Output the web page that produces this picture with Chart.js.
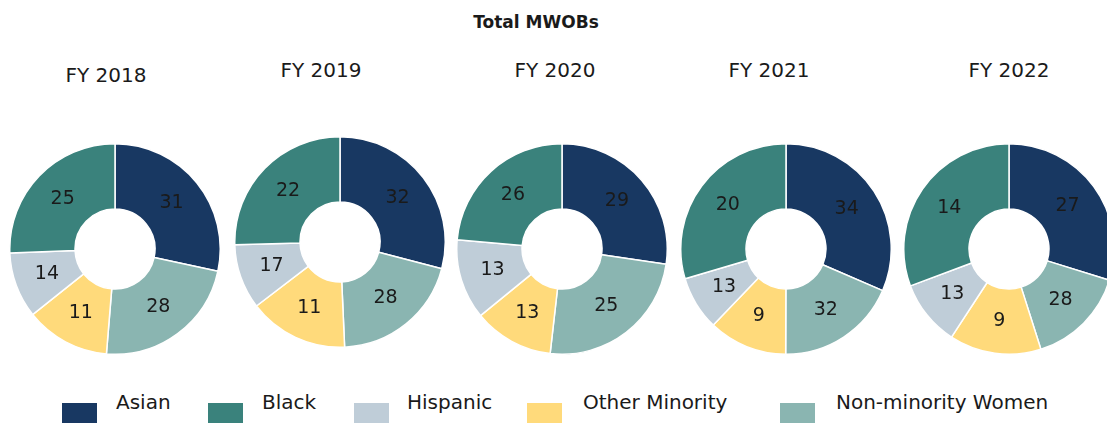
<!DOCTYPE html>
<html>
<head>
<meta charset="utf-8">
<script src="https://cdn.jsdelivr.net/npm/chart.js@4.4.1/dist/chart.umd.min.js"></script>
<style>
  body { margin: 0; width: 1107px; height: 423px; overflow: hidden; background: #fff;
         font-family: "DejaVu Sans", sans-serif; color: #1a1a1a; position: relative; }
  .lbl { position: absolute; transform: translate(-50%, -50%); white-space: nowrap; }
  #title { font-weight: bold; font-size: 17px; left: 536px; top: 22px; }
  .year { font-size: 20px; }
  canvas.pie { position: absolute; }
  .box { position: absolute; top: 403px; width: 35px; height: 20px; }
  .ltxt { position: absolute; top: 402px; transform: translateY(-50%); font-size: 20px; white-space: nowrap; }
</style>
</head>
<body>
<div id="title" class="lbl">Total MWOBs</div>

<script>
// fiscal years shown, one doughnut each
const years = ['FY 2018', 'FY 2019', 'FY 2020', 'FY 2021', 'FY 2022'];

// slice order, clockwise from 12 o'clock
const categories = ['Asian', 'Non-minority Women', 'Other Minority', 'Hispanic', 'Black'];
// legend order
const legendOrder = ['Asian', 'Black', 'Hispanic', 'Other Minority', 'Non-minority Women'];

// numbers printed on the slices
const asian            = [31, 32, 29, 34, 27];
const nonMinorityWomen = [28, 28, 25, 32, 28];
const otherMinority    = [11, 11, 13,  9,  9];
const hispanic         = [14, 17, 13, 13, 13];
const black            = [25, 22, 26, 20, 14];

// slice sizes as drawn (share of the ring, %), read from the arcs
const asianShare            = [28.4, 29.1, 27.3, 31.5, 29.8];
const nonMinorityWomenShare = [22.9, 20.2, 24.5, 18.6, 15.3];
const otherMinorityShare    = [13.0, 15.3, 12.3, 12.1, 14.1];
const hispanicShare         = [10.1, 10.0, 12.3,  8.3, 10.1];
const blackShare            = [25.6, 25.4, 23.6, 29.6, 30.7];

const colors = {
  'Asian': '#183862',
  'Black': '#3a827c',
  'Hispanic': '#bfcdd8',
  'Other Minority': '#ffda7b',
  'Non-minority Women': '#8ab5b1'
};

// layout of each small chart (centre of doughnut, year label centre)
const pieCenters = [[115, 249], [340, 242], [562, 249], [786, 249], [1009, 249]];
const yearPos = [[106, 75], [321, 70], [555, 70], [769, 70], [1009, 70]];
const SIZE = 212;

// draws the printed value in the middle of each arc
const sliceLabels = {
  id: 'sliceLabels',
  afterDatasetsDraw(chart, args, opts) {
    const ctx = chart.ctx;
    const meta = chart.getDatasetMeta(0);
    ctx.save();
    ctx.font = '19px "DejaVu Sans", sans-serif';
    ctx.fillStyle = '#1a1a1a';
    ctx.textAlign = 'center';
    ctx.textBaseline = 'middle';
    meta.data.forEach((arc, i) => {
      const p = arc.tooltipPosition();
      ctx.fillText(opts.values[i], p.x, p.y);
    });
    ctx.restore();
  }
};

years.forEach((yr, k) => {
  const lab = document.createElement('div');
  lab.className = 'lbl year';
  lab.textContent = yr;
  lab.style.left = yearPos[k][0] + 'px';
  lab.style.top = yearPos[k][1] + 'px';
  document.body.appendChild(lab);

  const cv = document.createElement('canvas');
  cv.className = 'pie';
  cv.width = SIZE;
  cv.height = SIZE;
  cv.style.left = (pieCenters[k][0] - SIZE / 2) + 'px';
  cv.style.top = (pieCenters[k][1] - SIZE / 2) + 'px';
  document.body.appendChild(cv);

  new Chart(cv, {
    type: 'doughnut',
    data: {
      labels: categories,
      datasets: [{
        data: [asianShare[k], nonMinorityWomenShare[k], otherMinorityShare[k], hispanicShare[k], blackShare[k]],
        backgroundColor: categories.map(c => colors[c]),
        borderColor: '#ffffff',
        borderWidth: 1.5
      }]
    },
    options: {
      responsive: false,
      animation: false,
      cutout: '38%',
      layout: { padding: 0 },
      plugins: {
        legend: { display: false },
        tooltip: { enabled: false },
        sliceLabels: { values: [asian[k], nonMinorityWomen[k], otherMinority[k], hispanic[k], black[k]] }
      }
    },
    plugins: [sliceLabels]
  });
});

// legend along the bottom
const legendX = [[62, 116], [208, 262], [354, 407], [527, 583], [780, 836]];
legendOrder.forEach((name, i) => {
  const b = document.createElement('div');
  b.className = 'box';
  b.style.left = legendX[i][0] + 'px';
  b.style.background = colors[name];
  document.body.appendChild(b);
  const t = document.createElement('div');
  t.className = 'ltxt';
  t.style.left = legendX[i][1] + 'px';
  t.textContent = name;
  document.body.appendChild(t);
});
</script>
</body>
</html>
